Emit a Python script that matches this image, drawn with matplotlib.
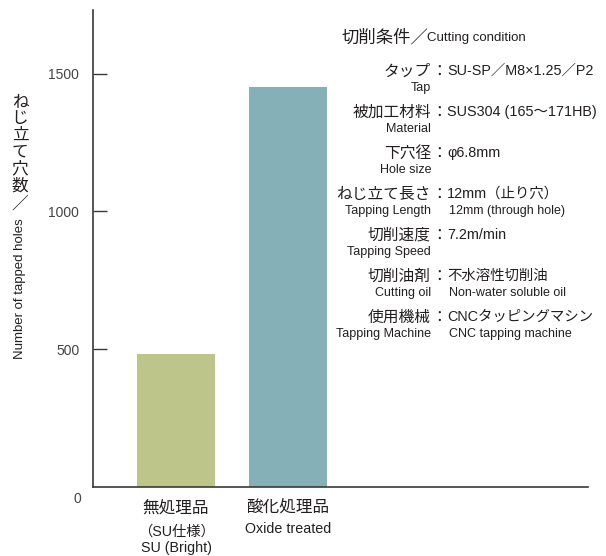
import matplotlib
matplotlib.use('Agg')
import matplotlib.pyplot as plt

plt.rcParams['font.family'] = ['Liberation Sans', 'Noto Sans CJK JP']

# data
categories_jp = ['無処理品', '酸化処理品']
categories_sub = ['（SU仕様）', 'Oxide treated']
categories_en = ['SU (Bright)', '']
holes = [482, 1452]
bar_colors = ['#BEC58A', '#86B0B8']
y_ticks = [500, 1000, 1500]

cond_jp = ['タップ', '被加工材料', '下穴径', 'ねじ立て長さ', '切削速度', '切削油剤', '使用機械']
cond_en = ['Tap', 'Material', 'Hole size', 'Tapping Length', 'Tapping Speed',
           'Cutting oil', 'Tapping Machine']
value_jp = ['SU-SP／M8×1.25／P2', 'SUS304 (165〜171HB)', 'φ6.8mm', '12mm（止り穴）',
            '7.2m/min', '不水溶性切削油', 'CNCタッピングマシン']
value_en = ['', '', '', '12mm (through hole)', '', 'Non-water soluble oil',
            'CNC tapping machine']

W, H = 606, 556
txt = '#231F20'
axc = '#3a3a3a'

fig = plt.figure(figsize=(W / 100, H / 100), dpi=100)
ax = fig.add_axes([92.7 / W, 1 - 487 / H, (587.7 - 92.7) / W, (487 - 10) / H])

x = range(len(holes))
ax.bar(x, holes, width=0.696, color=bar_colors, zorder=2)
ax.set_xlim(-0.744, 3.676)
ax.set_ylim(0, 1731)

for s in ['top', 'right']:
    ax.spines[s].set_visible(False)
for s in ['left', 'bottom']:
    ax.spines[s].set_color(axc)
    ax.spines[s].set_linewidth(1.2)

ax.set_xticks([])
ax.set_yticks(y_ticks)
ax.tick_params(axis='y', direction='in', length=10, width=1.0, color=axc,
               pad=9.6, labelsize=10, labelcolor='#444444')
ax.annotate('0', xy=(0, 0), xycoords=('axes fraction', 'data'), xytext=(-11, -8.6),
            textcoords='offset points', ha='center', va='center', fontsize=10,
            color='#444444', annotation_clip=False)

# category labels under bars
for i in x:
    ax.annotate(categories_jp[i], xy=(i, 0), xytext=(0, -15), textcoords='offset points',
                ha='center', va='center', fontsize=12, color=txt, annotation_clip=False)
    ax.annotate(categories_sub[i], xy=(i, 0), xytext=(0, -30.5 if i else -32.4),
                textcoords='offset points', ha='center', va='center',
                fontsize=10.3, color=txt, annotation_clip=False)
    if categories_en[i]:
        ax.annotate(categories_en[i], xy=(i, 0), xytext=(0, -44), textcoords='offset points',
                    ha='center', va='center', fontsize=10.3, color=txt,
                    annotation_clip=False)


def px(xp, yp):
    return xp / W, 1 - yp / H


# y axis label: vertical Japanese + rotated English
for k, ch in enumerate('ねじ立て穴数'):
    fig.text(*px(20, 101.5 + 16.8 * k), ch, ha='center', va='center', fontsize=12, color=txt)
fig.text(*px(20, 204), '／', ha='center', va='center', fontsize=12, color=txt)
fig.text(*px(20, 289), 'Number of tapped holes', rotation=90, ha='center', va='center',
         fontsize=9.5, color=txt)

# cutting condition block
fig.text(*px(341, 37), '切削条件／', ha='left', va='center', fontsize=12.5, color=txt)
fig.text(*px(427, 38), 'Cutting condition', ha='left', va='center', fontsize=9.5, color=txt)
for i in range(len(cond_jp)):
    yj = 71 + 41 * i
    ye = yj + 17
    fig.text(*px(431, yj), cond_jp[i], ha='right', va='center', fontsize=11.3, color=txt)
    fig.text(*px(439, yj), '：', ha='center', va='center', fontsize=11.3, color=txt)
    fig.text(*px(447, yj), value_jp[i], ha='left', va='center', fontsize=10.4, color=txt)
    fig.text(*px(431, ye), cond_en[i], ha='right', va='center', fontsize=9, color=txt)
    if value_en[i]:
        fig.text(*px(449, ye), value_en[i], ha='left', va='center', fontsize=9, color=txt)

fig.savefig('out.png', dpi=100)
